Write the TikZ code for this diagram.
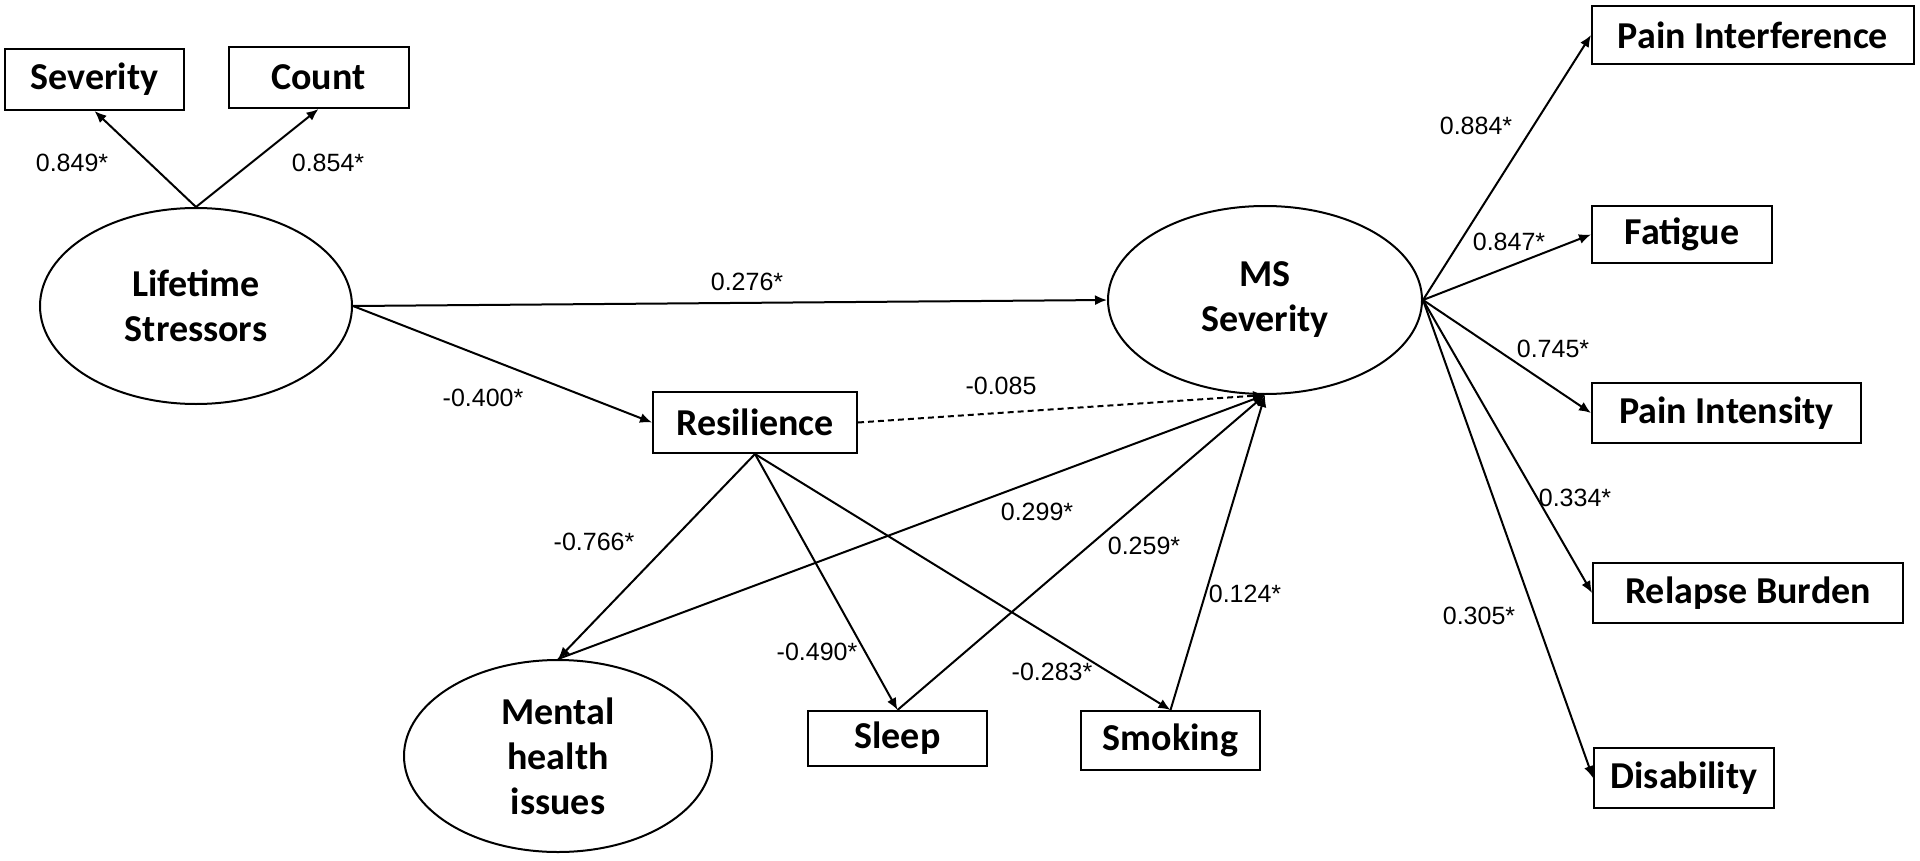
\documentclass[tikz,border=0pt]{standalone}
\usepackage{fontspec}
\setmainfont{Carlito}
\newfontfamily\labfont{Liberation Sans}
\usetikzlibrary{shapes.geometric,arrows.meta}
\tikzset{
  obs/.style={draw, line width=1pt, rectangle, inner sep=0pt, font=\fontsize{19}{23}\selectfont\bfseries},
  lat/.style={draw, line width=1pt, ellipse, inner sep=0pt, align=center, font=\fontsize{19}{22.5}\selectfont\bfseries},
  path/.style={line width=1pt, -{Latex[length=6pt,width=5pt]}},
  coef/.style={font=\labfont\fontsize{12.5}{14}\selectfont, inner sep=1pt}
}
\begin{document}
\begin{tikzpicture}[x=0.5pt,y=-0.5pt]
\useasboundingbox (0,0) rectangle (1920,861);
% observed boxes
\node[obs, minimum width=89.5pt, minimum height=30.5pt] (sev) at (94.5,79.5) {Severity};
\node[obs, minimum width=90pt, minimum height=30.5pt] (cnt) at (318.5,77.5) {Count};
\node[obs, minimum width=102pt, minimum height=30.5pt] (res) at (755,422.5) {Resilience};
\node[obs, minimum width=89.5pt, minimum height=27.5pt] (slp) at (897.5,738.5) {Sleep};
\node[obs, minimum width=89.5pt, minimum height=29.5pt] (smk) at (1170.5,740.5) {Smoking};
\node[obs, minimum width=161pt, minimum height=29pt] (pif) at (1753,35) {Pain Interference};
\node[obs, minimum width=90pt, minimum height=28.5pt] (fat) at (1682,234.5) {Fatigue};
\node[obs, minimum width=134.5pt, minimum height=30pt] (pin) at (1726.5,413) {Pain Intensity};
\node[obs, minimum width=155pt, minimum height=30pt] (rel) at (1748,593) {Relapse Burden};
\node[obs, minimum width=90pt, minimum height=30pt] (dis) at (1684,778) {Disability};
% latent ellipses
\node[lat, minimum width=156pt, minimum height=98pt] (ls) at (196,306) {Lifetime\\Stressors};
\node[lat, minimum width=157pt, minimum height=94pt] (ms) at (1265,300) {MS\\Severity};
\node[lat, minimum width=154pt, minimum height=96pt] (mh) at (558,756) {Mental\\health\\issues};
% paths
\draw[path] (ls.north) -- (sev.south);
\draw[path] (ls.north) -- (cnt.south);
\draw[path] (ls.east) -- (ms.west);
\draw[path] (ls.east) -- (res.west);
\draw[path, dash pattern=on 3pt off 2pt] (res.east) -- (ms.south);
\draw[path] (res.south) -- (mh.north);
\draw[path] (res.south) -- (slp.north);
\draw[path] (res.south) -- (smk.north);
\draw[path] (mh.north) -- (ms.south);
\draw[path] (slp.north) -- (ms.south);
\draw[path] (smk.north) -- (ms.south);
\draw[path] (ms.east) -- (pif.west);
\draw[path] (ms.east) -- (fat.west);
\draw[path] (ms.east) -- (pin.west);
\draw[path] (ms.east) -- (rel.west);
\draw[path] (ms.east) -- (dis.west);
% coefficients
\node[coef] (c1) at (72,163) {0.849*};
\node[coef] (c2) at (328,163) {0.854*};
\node[coef] (c3) at (747,282) {0.276*};
\node[coef] (c4) at (483,398) {-0.400*};
\node[coef] (c5) at (1001,386) {-0.085};
\node[coef] (c6) at (594,542) {-0.766*};
\node[coef] (c7) at (1037,512) {0.299*};
\node[coef] (c8) at (1144,546) {0.259*};
\node[coef] (c9) at (1245,594) {0.124*};
\node[coef] (c10) at (817,652) {-0.490*};
\node[coef] (c11) at (1052,672) {-0.283*};
\node[coef] (c12) at (1476,126) {0.884*};
\node[coef] (c13) at (1509,242) {0.847*};
\node[coef] (c14) at (1553,349) {0.745*};
\node[coef] (c15) at (1575,498) {0.334*};
\node[coef] (c16) at (1479,616) {0.305*};
\end{tikzpicture}
\end{document}
